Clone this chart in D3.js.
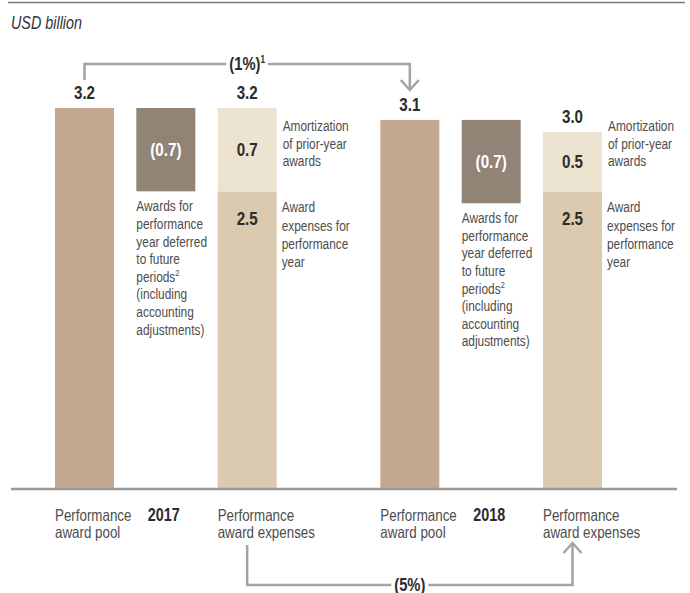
<!DOCTYPE html>
<html>
<head>
<meta charset="utf-8">
<script src="https://cdn.jsdelivr.net/npm/d3@7"></script>
<style>
  body { margin: 0; background: #fff; }
  svg text { font-family: 'Liberation Sans', Arial, sans-serif; }
</style>
</head>
<body>
<svg id="chart" width="690" height="593"></svg>
<script>
// values (USD billion)
const years = ["2017", "2018"];
const poolValues = [3.2, 3.1];
const deferredValues = [0.7, 0.7];
const amortizationValues = [0.7, 0.5];
const performanceYearValues = [2.5, 2.5];
const expenseTotals = [3.2, 3.0];
const poolChange = "(1%)";
const expenseChange = "(5%)";

const slots = ["pool2017", "def2017", "exp2017", "gap", "pool2018", "def2018", "exp2018"];

const colors = {
    pool: "#c4a78f",
    deferred: "#918477",
    amort: "#ede3d1",
    perf: "#dccab0",
    text: "#2b2b2b",
    label: "#4d4d4d",
    bracket: "#a3a3a3"
};

// condensed look: squeeze Liberation Sans horizontally
const SX = 0.82;

const svg = d3.select("#chart");

const x = d3.scaleBand()
    .domain(slots)
    .range([55, 602])
    .paddingInner(0.2746)
    .paddingOuter(0);

const y = d3.scaleLinear()
    .domain([0, 3.2])
    .range([489, 108]);

const bw = x.bandwidth();
const cx = key => x(key) + bw / 2;

// text at (x0,y0) in the narrow style, lines stacked with line height lh
function txt(parent, x0, y0, lines, o) {
    o = o || {};
    lines = [].concat(lines);
    const t = parent.append("text")
        .attr("transform", `translate(${x0},${y0}) scale(${SX},1)`)
        .attr("font-size", o.size || 14.5)
        .attr("font-weight", o.bold ? "bold" : null)
        .attr("font-style", o.italic ? "italic" : null)
        .attr("text-anchor", o.anchor || "start")
        .attr("fill", o.fill || colors.label);
    t.selectAll("tspan.l").data(lines).join("tspan")
        .attr("class", "l")
        .attr("x", 0).attr("y", (d, j) => j * (o.lh || 17.5))
        .text(d => d);
    return t;
}

// top rule and unit
svg.append("line")
    .attr("x1", 8).attr("x2", 685).attr("y1", 2.5).attr("y2", 2.5)
    .attr("stroke", "#7a7a7a").attr("stroke-width", 1.5);

txt(svg, 11, 29, "USD billion", {size: 17.5, italic: true, fill: "#333"});

years.forEach((yr, i) => {
    const pool = "pool" + yr, def = "def" + yr, exp = "exp" + yr;

    // award pool
    svg.append("rect")
        .attr("x", x(pool)).attr("width", bw)
        .attr("y", y(poolValues[i])).attr("height", y(0) - y(poolValues[i]))
        .attr("fill", colors.pool);

    // deferred (waterfall step down from the pool)
    const defTop = poolValues[i], defBottom = poolValues[i] - deferredValues[i];
    svg.append("rect")
        .attr("x", x(def)).attr("width", bw)
        .attr("y", y(defTop)).attr("height", y(defBottom) - y(defTop))
        .attr("fill", colors.deferred);

    // expenses: performance year + amortization
    svg.append("rect")
        .attr("x", x(exp)).attr("width", bw)
        .attr("y", y(performanceYearValues[i])).attr("height", y(0) - y(performanceYearValues[i]))
        .attr("fill", colors.perf);
    svg.append("rect")
        .attr("x", x(exp)).attr("width", bw)
        .attr("y", y(expenseTotals[i])).attr("height", y(performanceYearValues[i]) - y(expenseTotals[i]))
        .attr("fill", colors.amort);

    const num = {size: 18.5, bold: true, anchor: "middle", fill: colors.text};

    // totals above bars
    txt(svg, cx(pool), y(poolValues[i]) - 9, poolValues[i].toFixed(1), num);
    txt(svg, cx(exp), y(expenseTotals[i]) - 9, expenseTotals[i].toFixed(1), num);

    // values inside bars
    txt(svg, cx(def), (y(defTop) + y(defBottom)) / 2 + 6.5,
        "(" + deferredValues[i].toFixed(1) + ")", Object.assign({}, num, {fill: "#fff"}));
    txt(svg, cx(exp), (y(expenseTotals[i]) + y(performanceYearValues[i])) / 2 + 6.5,
        amortizationValues[i].toFixed(1), num);
    txt(svg, cx(exp), y(performanceYearValues[i]) + 34,
        performanceYearValues[i].toFixed(1), num);

    // side notes
    const split = y(performanceYearValues[i]);
    txt(svg, x(exp) + bw + 6, split - 60, ["Amortization", "of prior-year", "awards"], {lh: 17.5});
    txt(svg, x(exp) + bw + 5, split + 21, ["Award", "expenses for", "performance", "year"], {lh: 18.3});
    const defText = txt(svg, x(def), y(defBottom) + 20,
        ["Awards for", "performance", "year deferred", "to future", "periods", "(including", "accounting", "adjustments)"],
        {lh: 17.6});
    // footnote 2 on "periods"
    defText.selectAll("tspan.l").filter((d, j) => j === 4).append("tspan")
        .attr("font-size", 9).attr("dy", -6).text("2");

    // category labels under the axis
    txt(svg, x(pool), 521, ["Performance", "award pool"], {size: 16.3, lh: 17.5});
    txt(svg, x(exp), 521, ["Performance", "award expenses"], {size: 16.3, lh: 17.5});
    txt(svg, cx(def) - 2, 521, yr, {size: 17.5, bold: true, anchor: "middle", fill: colors.text});
});

// axis baseline
svg.append("line")
    .attr("x1", 11).attr("x2", 677).attr("y1", y(0)).attr("y2", y(0))
    .attr("stroke", "#999").attr("stroke-width", 2.5);

// change brackets
const line = d3.line();

function bracket(x1, x2, yFrom, yBar, yTo, label, note, up) {
    const mid = (x1 + x2) / 2;
    const g = svg.append("g");
    g.append("path")
        .attr("d", line([[x1, yFrom], [x1, yBar], [x2, yBar], [x2, yTo]]))
        .attr("fill", "none").attr("stroke", colors.bracket).attr("stroke-width", 2.5);
    const dir = up ? 1 : -1;
    g.append("path")
        .attr("d", line([[x2 - 9, yTo + dir * 10], [x2, yTo], [x2 + 9, yTo + dir * 10]]))
        .attr("fill", "none").attr("stroke", colors.bracket).attr("stroke-width", 2.5);
    const t = txt(g, mid, yBar + 6, label, {size: 18, bold: true, anchor: "middle", fill: colors.text});
    if (note) t.select("tspan.l").append("tspan").attr("font-size", 10).attr("dy", -7).text(note);
    const bb = t.node().getBBox();
    const w = bb.width * SX;
    g.insert("rect", "text")
        .attr("x", mid - w / 2 - 3).attr("y", yBar - 3)
        .attr("width", w + 6).attr("height", 6)
        .attr("fill", "#fff");
}

bracket(cx("pool2017"), cx("pool2018"), 80, 64, 90, poolChange, "1", false);
bracket(cx("exp2017"), cx("exp2018"), 545, 585, 543, expenseChange, null, true);
</script>
</body>
</html>
